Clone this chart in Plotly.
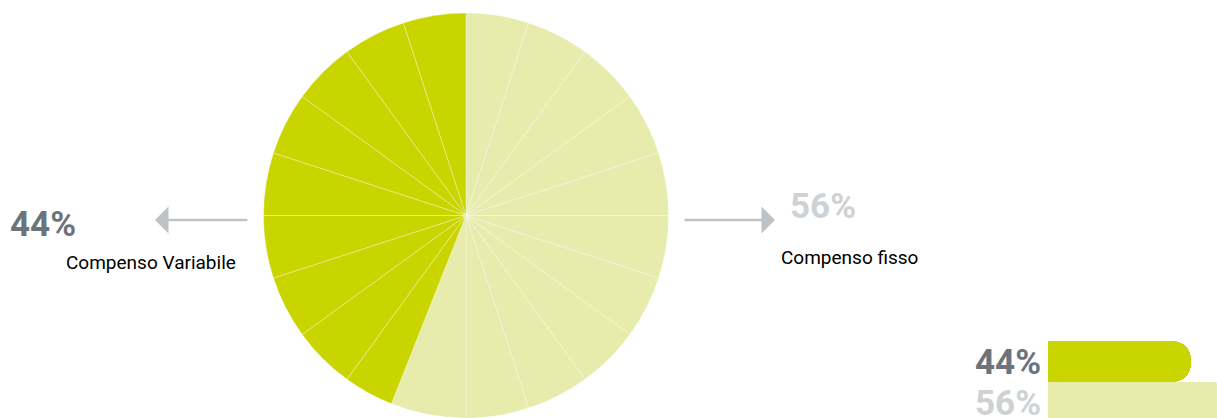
import plotly.graph_objects as go

# Shares of total compensation
labels = ["Compenso fisso", "Compenso Variabile"]
shares = [56, 44]
pct_text = ["56%", "44%"]

W, H = 1217, 418
DARK = "#CAD500"
LIGHT = "#E7EBAB"
GREY_DARK = "#6B747C"
GREY_LIGHT = "#CED2D5"
ARROW = "#BEC3C7"
FONT = "Roboto, DejaVu Sans Condensed, sans-serif"

colors = {"Compenso fisso": LIGHT, "Compenso Variabile": DARK}

# Split each share on a 5% grid so the pie shows thin radial divisions
STEP = 5
seg_vals, seg_cols = [], []
start = 0
for lab, val in zip(labels, shares):
    end = start + val
    cuts = [start] + [g for g in range(0, 101, STEP) if start < g < end] + [end]
    pieces = [b - a for a, b in zip(cuts[:-1], cuts[1:])]
    merged = []
    for p in pieces:
        if merged and p < STEP / 2:
            merged[-1] += p
        else:
            merged.append(p)
    seg_vals += merged
    seg_cols += [colors[lab]] * len(merged)
    start = end


def px(x):
    return min(max(x / W, 0), 1)


def py(y):
    return min(max((H - y) / H, 0), 1)


fig = go.Figure()

cx, cy, r = 466, 216, 203
fig.add_trace(go.Pie(
    values=seg_vals,
    marker=dict(colors=seg_cols, line=dict(color="rgba(255,255,255,0.45)", width=0.7)),
    sort=False,
    direction="clockwise",
    rotation=0,
    textinfo="none",
    hoverinfo="skip",
    domain=dict(x=[px(cx - r), px(cx + r)], y=[py(cy + r), py(cy - r)]),
))

# Small horizontal bars in the corner
bar_y = labels[::-1]
bar_x = shares[::-1]
fig.add_trace(go.Bar(
    x=bar_x,
    y=bar_y,
    orientation="h",
    marker=dict(color=[colors[l] for l in bar_y], cornerradius=18, line=dict(width=0)),
    hoverinfo="skip",
    xaxis="x",
    yaxis="y",
))

fig.update_layout(
    width=W,
    height=H,
    margin=dict(l=0, r=0, t=0, b=0),
    paper_bgcolor="white",
    plot_bgcolor="rgba(0,0,0,0)",
    showlegend=False,
    bargap=0,
    xaxis=dict(domain=[px(1048), 1], range=[0, (W - 1048) / (143 / 44)],
               visible=False, fixedrange=True),
    yaxis=dict(domain=[0, py(331)], range=[1.378, -0.744], visible=False,
               type="category", fixedrange=True),
)

PCT_SIZE = 35
LBL_SIZE = 19

ann = []
# Pie callouts
ann.append(dict(x=px(42.5), y=py(224), xref="paper", yref="paper", text=f"<b>{pct_text[1]}</b>",
                showarrow=False, xanchor="center", yanchor="middle",
                font=dict(family=FONT, size=PCT_SIZE, color=GREY_DARK)))
ann.append(dict(x=px(151), y=py(262), xref="paper", yref="paper", text=labels[1],
                showarrow=False, xanchor="center", yanchor="middle",
                font=dict(family=FONT, size=LBL_SIZE, color="black")))
ann.append(dict(x=px(822.5), y=py(206), xref="paper", yref="paper", text=f"<b>{pct_text[0]}</b>",
                showarrow=False, xanchor="center", yanchor="middle",
                font=dict(family=FONT, size=PCT_SIZE, color=GREY_LIGHT)))
ann.append(dict(x=px(849), y=py(257.5), xref="paper", yref="paper", text=labels[0],
                showarrow=False, xanchor="center", yanchor="middle",
                font=dict(family=FONT, size=LBL_SIZE, color="black")))
# Arrows (tail offsets in pixels from the tip)
ann.append(dict(x=px(155), y=py(220), ax=94, ay=0, xref="paper", yref="paper",
                axref="pixel", ayref="pixel", text="", showarrow=True, arrowhead=1,
                arrowsize=1.8, arrowwidth=2.5, arrowcolor=ARROW, standoff=0))
ann.append(dict(x=px(775), y=py(220), ax=-92, ay=0, xref="paper", yref="paper",
                axref="pixel", ayref="pixel", text="", showarrow=True, arrowhead=1,
                arrowsize=1.8, arrowwidth=2.5, arrowcolor=ARROW, standoff=0))
# Bar labels
for lab, t, c in zip(labels, pct_text, [GREY_LIGHT, GREY_DARK]):
    ann.append(dict(x=px(1043), y=lab, xref="paper", yref="y", text=f"<b>{t}</b>",
                    showarrow=False, xanchor="right", yanchor="middle", yshift=-1,
                    font=dict(family=FONT, size=PCT_SIZE, color=c)))
fig.update_layout(annotations=ann)

fig.write_html("out.html")
